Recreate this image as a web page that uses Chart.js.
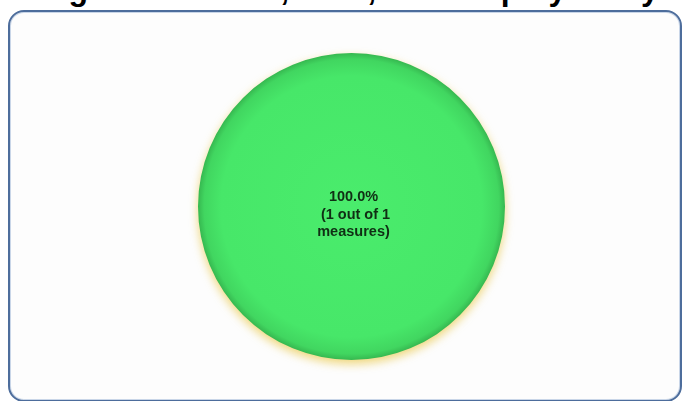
<!DOCTYPE html>
<html>
<head>
<meta charset="utf-8">
<script src="https://cdn.jsdelivr.net/npm/chart.js@4/dist/chart.umd.min.js"></script>
<style>
  html, body { margin: 0; padding: 0; background: #ffffff; overflow: hidden; }
  #wrap { position: relative; width: 686px; height: 401px; overflow: hidden; }
  #title { position: absolute; left: -6px; width: 686px; top: -29px; height: 32px; line-height: 32px;
           text-align: center; font: bold 32px "Liberation Sans", Arial, sans-serif; color: #000; white-space: nowrap; }
  #box { position: absolute; left: 8px; top: 10px; width: 670px; height: 388px; border: 2.5px solid #4d6d9c;
         border-radius: 16px; background: #fdfdfd; box-shadow: inset 0 0 0 1px #c9d6e8; }
  canvas { position: absolute; left: 0; top: 0; }
</style>
</head>
<body>
<div id="wrap">
  <div id="title">Program Process, SMS, and Employability</div>
  <div id="box"></div>
  <canvas id="c" width="686" height="401"></canvas>
</div>
<script>
const categories = ["Met"];
const values = [1];
const totalMeasures = 1;
const sliceLabels = ["100.0%", " (1 out of 1", "measures)"];
const sliceColors = ["#48e869"];

const shadowPlugin = {
  id: 'shadow',
  beforeDatasetsDraw(chart) {
    const ctx = chart.ctx;
    ctx.save();
    ctx.shadowColor = 'rgba(235, 205, 90, 0.8)';
    ctx.shadowBlur = 10;
    ctx.shadowOffsetY = 4;
  },
  afterDatasetsDraw(chart) {
    chart.ctx.restore();
    const ctx = chart.ctx;
    const meta = chart.getDatasetMeta(0);
    const arc = meta.data[0];
    ctx.save();
    ctx.font = 'bold 14.5px "Liberation Sans", Arial, sans-serif';
    ctx.fillStyle = '#102e14';
    ctx.textAlign = 'center';
    ctx.textBaseline = 'middle';
    const lh = 17.5;
    sliceLabels.forEach((t, i) => {
      ctx.fillText(t, arc.x + 2, arc.y - lh + i * lh + 8);
    });
    ctx.restore();
  }
};

new Chart(document.getElementById('c'), {
  type: 'pie',
  data: {
    labels: categories,
    datasets: [{
      data: values,
      borderWidth: 0,
      backgroundColor(context) {
        const chart = context.chart;
        const a = chart.chartArea;
        if (!a) return sliceColors[0];
        const cx = (a.left + a.right) / 2, cy = (a.top + a.bottom) / 2;
        const r = Math.min(a.right - a.left, a.bottom - a.top) / 2;
        const g = chart.ctx.createRadialGradient(cx, cy, 0, cx, cy, r);
        g.addColorStop(0, '#4aec6c');
        g.addColorStop(0.85, '#47e769');
        g.addColorStop(0.96, '#41d660');
        g.addColorStop(1, '#36b850');
        return g;
      }
    }]
  },
  options: {
    responsive: false,
    animation: false,
    layout: { padding: { left: 197, right: 180, top: 53, bottom: 41 } },
    plugins: { legend: { display: false }, tooltip: { enabled: false }, title: { display: false } }
  },
  plugins: [shadowPlugin]
});
</script>
</body>
</html>
